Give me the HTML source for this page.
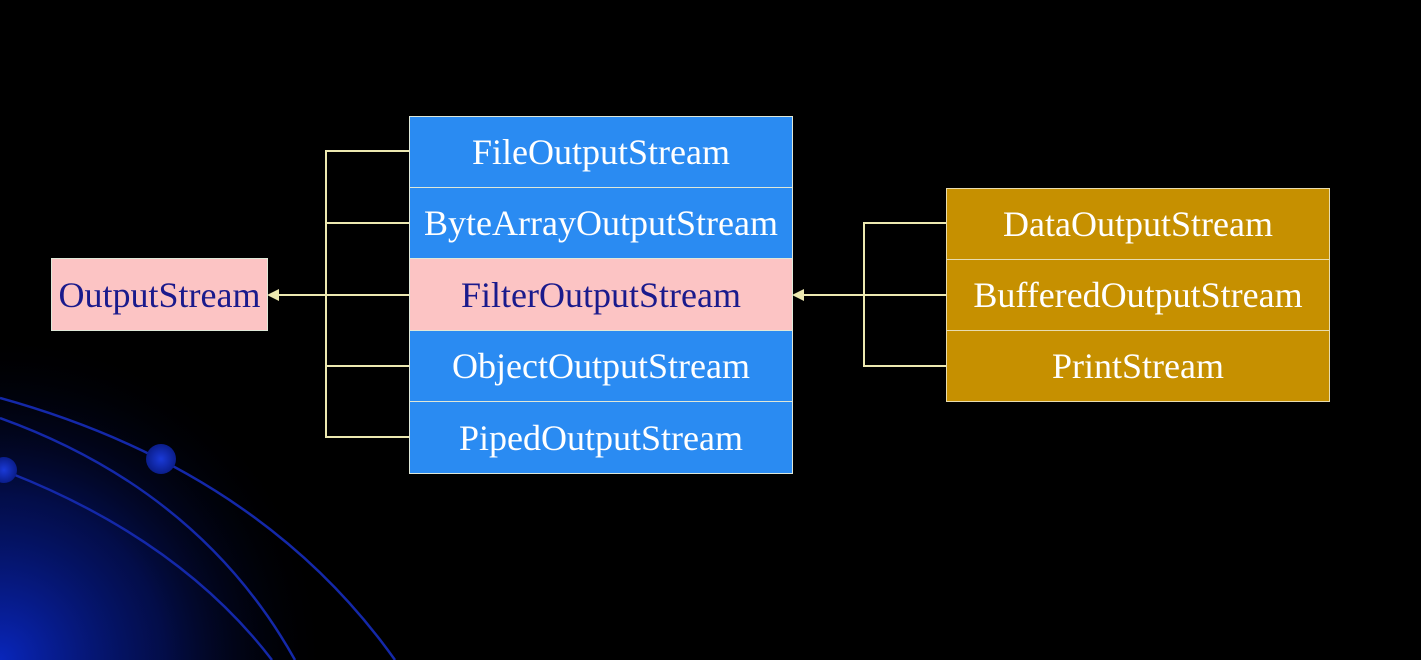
<!DOCTYPE html>
<html><head><style>
html,body{margin:0;padding:0;background:#000;}
#c{position:relative;width:1421px;height:660px;overflow:hidden;background:#000;font-family:"Liberation Serif",serif;}
.b{position:absolute;box-sizing:border-box;display:flex;align-items:center;justify-content:center;font-size:36px;color:#fff;letter-spacing:0px;}
.bl{background:#2a8bf2;border:1.5px solid #dfe8d8;}
.pk{background:#fcc4c4;color:#1a1a8c;border:1.5px solid #dfe8d8;}
.or{background:#c69000;border:1.5px solid #e8dcb0;}
</style></head><body><div id="c">
<svg width="1421" height="660" style="position:absolute;left:0;top:0">
<defs><radialGradient id="g" cx="0" cy="660" r="330" gradientUnits="userSpaceOnUse">
<stop offset="0" stop-color="#0a2ad0" stop-opacity="0.9"/><stop offset="0.5" stop-color="#061a90" stop-opacity="0.5"/><stop offset="1" stop-color="#000" stop-opacity="0"/></radialGradient>
<radialGradient id="d"><stop offset="0" stop-color="#1a3ad8"/><stop offset="1" stop-color="#0a1d8a"/></radialGradient></defs>
<rect x="0" y="330" width="340" height="330" fill="url(#g)"/>
<g fill="none" stroke="#1428a8" stroke-width="2.5">
<path d="M0,398 Q260,470 395,660"/>
<path d="M0,418 Q200,490 295,660"/>
<path d="M10,473 Q180,540 272,660"/>
</g>
<circle cx="161" cy="459" r="15" fill="url(#d)"/>
<circle cx="4" cy="470" r="13" fill="url(#d)"/>
<g stroke="#ece8b0" stroke-width="2" fill="none">
<path d="M409,151 H326 V437 H409 M326,223 H409 M326,366 H409 M409,295 H272"/>
<path d="M946,223 H864 V366 H946 M864,295 H946 M864,295 H797"/>
</g>
<polygon points="267,295 279,289 279,301" fill="#ece8b0"/>
<polygon points="792,295 804,289 804,301" fill="#ece8b0"/>
</svg>
<div class="b pk" style="left:51px;top:258px;width:217px;height:73px;">OutputStream</div>
<div class="b bl" style="left:409px;top:116px;width:384px;height:72px;">FileOutputStream</div>
<div class="b bl" style="left:409px;top:187px;width:384px;height:72px;">ByteArrayOutputStream</div>
<div class="b pk" style="left:409px;top:258px;width:384px;height:73px;">FilterOutputStream</div>
<div class="b bl" style="left:409px;top:330px;width:384px;height:72px;">ObjectOutputStream</div>
<div class="b bl" style="left:409px;top:401px;width:384px;height:73px;">PipedOutputStream</div>
<div class="b or" style="left:946px;top:188px;width:384px;height:72px;">DataOutputStream</div>
<div class="b or" style="left:946px;top:259px;width:384px;height:72px;">BufferedOutputStream</div>
<div class="b or" style="left:946px;top:330px;width:384px;height:72px;">PrintStream</div>
</div></body></html>
